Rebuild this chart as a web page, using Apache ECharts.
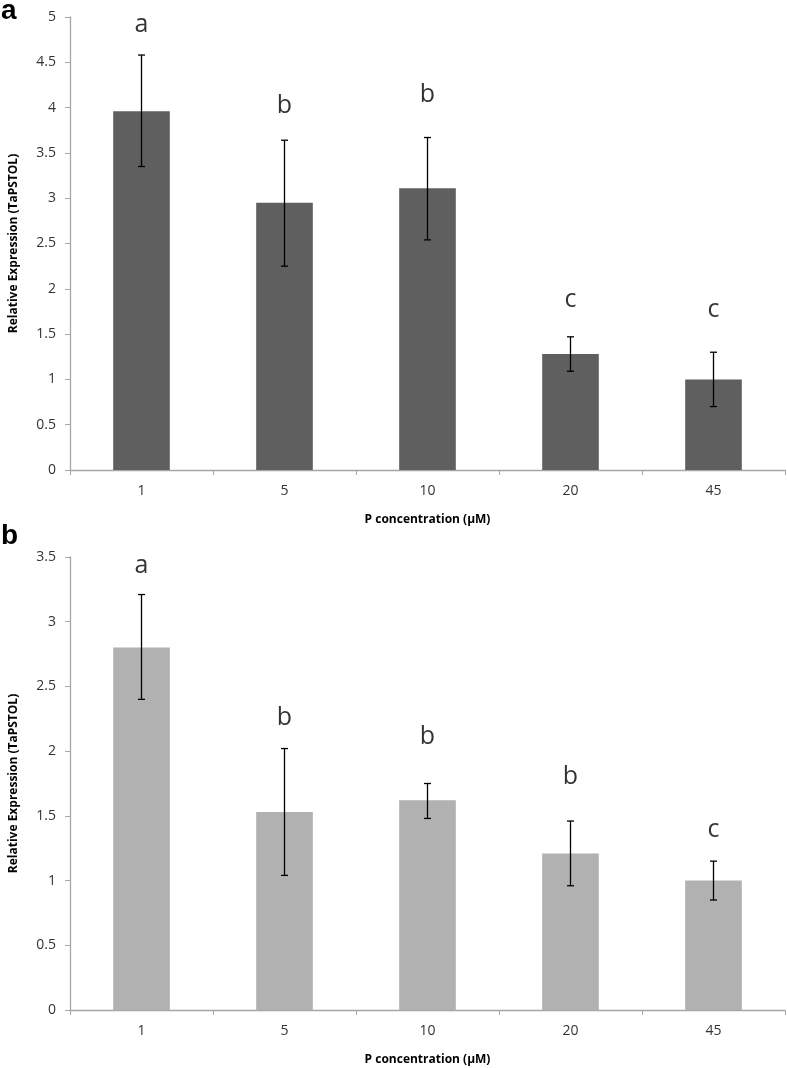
<!DOCTYPE html>
<html>
<head>
<meta charset="utf-8">
<script src="https://cdn.jsdelivr.net/npm/echarts@6/dist/echarts.min.js"></script>
<style>html,body{margin:0;padding:0;background:#fff}</style>
</head>
<body>
<div id="main" style="width:787px;height:1068px"></div>
<script type="text/javascript">
    // P concentration categories (µM)
    var categories = ['1', '5', '10', '20', '45'];

    // panel a
    var meanA = [3.96, 2.95, 3.11, 1.28, 1.00];
    var lowA = [3.35, 2.25, 2.54, 1.09, 0.70];
    var highA = [4.58, 3.64, 3.67, 1.47, 1.30];
    var lettersA = ['a', 'b', 'b', 'c', 'c'];
    var letterYA = [4.91, 4.02, 4.14, 1.88, 1.77];
    var yMaxA = 5;

    // panel b
    var meanB = [2.80, 1.53, 1.62, 1.21, 1.00];
    var lowB = [2.40, 1.04, 1.48, 0.96, 0.85];
    var highB = [3.21, 2.02, 1.75, 1.46, 1.15];
    var lettersB = ['a', 'b', 'b', 'b', 'c'];
    var letterYB = [3.43, 2.26, 2.11, 1.80, 1.39];
    var yMaxB = 3.5;

    var yStep = 0.5;
    var FONT = '"Open Sans", "Liberation Sans", sans-serif';
    var AXIS_GREY = '#a6a6a6';

    function xAxisFor(idx) {
        return {
            type: 'category', gridIndex: idx, data: categories,
            name: 'P concentration (µM)', nameLocation: 'middle', nameGap: 44,
            nameTextStyle: {fontFamily: FONT, fontWeight: 'bold', fontSize: 12, color: '#000'},
            axisLine: {lineStyle: {color: AXIS_GREY, width: 1.3}},
            axisTick: {show: true, length: 5, lineStyle: {color: AXIS_GREY}},
            axisLabel: {fontFamily: FONT, fontSize: 14, color: '#333', margin: 14}
        };
    }

    function yAxisFor(idx, max) {
        return {
            type: 'value', gridIndex: idx, min: 0, max: max, interval: yStep,
            name: 'Relative Expression (TaPSTOL)', nameLocation: 'middle', nameRotate: 90, nameGap: 50,
            nameTextStyle: {fontFamily: FONT, fontWeight: 'bold', fontSize: 12, color: '#000'},
            axisLine: {show: true, lineStyle: {color: AXIS_GREY, width: 1.3}},
            axisTick: {show: true, length: 5, lineStyle: {color: AXIS_GREY}},
            axisLabel: {fontFamily: FONT, fontSize: 14, color: '#333', margin: 14},
            splitLine: {show: false}
        };
    }

    function barSeries(idx, values, color) {
        return {
            type: 'bar', xAxisIndex: idx, yAxisIndex: idx, data: values,
            barWidth: '39.6%', itemStyle: {color: color}, silent: true
        };
    }

    function errorSeries(idx, low, high) {
        return {
            type: 'custom', xAxisIndex: idx, yAxisIndex: idx, z: 10, silent: true,
            encode: {x: 0, y: [1, 2]},
            data: categories.map(function (c, i) { return [i, low[i], high[i]]; }),
            renderItem: function (params, api) {
                var lo = api.coord([api.value(0), api.value(1)]);
                var hi = api.coord([api.value(0), api.value(2)]);
                var w = 3.5;
                var st = {stroke: '#000', lineWidth: 1.3};
                return {
                    type: 'group', children: [
                        {type: 'line', shape: {x1: hi[0], y1: hi[1], x2: lo[0], y2: lo[1]}, style: st},
                        {type: 'line', shape: {x1: hi[0] - w, y1: hi[1], x2: hi[0] + w, y2: hi[1]}, style: st},
                        {type: 'line', shape: {x1: lo[0] - w, y1: lo[1], x2: lo[0] + w, y2: lo[1]}, style: st}
                    ]
                };
            }
        };
    }

    function letterSeries(idx, letters, ys) {
        return {
            type: 'scatter', xAxisIndex: idx, yAxisIndex: idx, symbolSize: 0, silent: true,
            data: letters.map(function (l, i) { return [i, ys[i]]; }),
            label: {
                show: true, position: 'inside',
                formatter: function (p) { return letters[p.dataIndex]; },
                fontFamily: FONT, fontSize: 25, color: '#000'
            }
        };
    }

    var option = {
        animation: false,
        backgroundColor: '#fff',
        grid: [
            {left: 62, right: 2, top: 17, height: 453},
            {left: 62, right: 2, top: 557, height: 453}
        ],
        xAxis: [xAxisFor(0), xAxisFor(1)],
        yAxis: [yAxisFor(0, yMaxA), yAxisFor(1, yMaxB)],
        graphic: [
            {type: 'text', left: 1, top: -3, style: {text: 'a', font: 'bold 28px "Liberation Sans", sans-serif', fill: '#000'}},
            {type: 'text', left: 1, top: 522, style: {text: 'b', font: 'bold 28px "Liberation Sans", sans-serif', fill: '#000'}}
        ],
        series: [
            barSeries(0, meanA, '#5f5f5f'),
            errorSeries(0, lowA, highA),
            letterSeries(0, lettersA, letterYA),
            barSeries(1, meanB, '#b1b1b1'),
            errorSeries(1, lowB, highB),
            letterSeries(1, lettersB, letterYB)
        ]
    };

    var myChart = echarts.init(document.getElementById('main'));
    myChart.setOption(option);
</script>
</body>
</html>
